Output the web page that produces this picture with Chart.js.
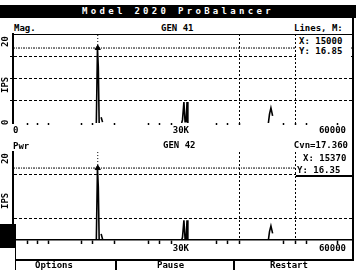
<!DOCTYPE html>
<html>
<head>
<meta charset="utf-8">
<script src="https://cdn.jsdelivr.net/npm/chart.js@4.4.1/dist/chart.umd.min.js"></script>
<style>
body{margin:0;background:#fff;}
#screen{position:relative;width:356px;height:270px;overflow:hidden;background:#fff;font:bold 9px "DejaVu Sans Mono",monospace;color:#000;}
.t{position:absolute;line-height:9px;white-space:nowrap;}
.rot{transform:rotate(-90deg);transform-origin:left top;}
.blk{position:absolute;background:#000;}
canvas{position:absolute;left:0;}
</style>
</head>
<body>
<div id="screen">
  <div class="blk" style="left:0;top:5px;width:356px;height:13px"></div>
  <div class="t" style="left:0;top:7px;width:356px;text-align:center;color:#fff;letter-spacing:3.3px">Model 2020 ProBalancer</div>

  <div class="t" style="left:14px;top:24px">Mag.</div>
  <div class="t" style="left:161px;top:24px">GEN 41</div>
  <div class="t" style="left:294px;top:24px">Lines, M:</div>

  <canvas id="magChart" width="356" height="100" style="top:28px"></canvas>
  <canvas id="pwrChart" width="356" height="100" style="top:146px"></canvas>

  <div class="t rot" style="left:1px;top:47px">20</div>
  <div class="t rot" style="left:1px;top:93px">IPS</div>
  <div class="t rot" style="left:1px;top:125px">0</div>

  <div class="t" style="left:296px;top:35px;width:55px;height:23px;background:#fff"></div>
  <div class="t" id="magX" style="left:299px;top:37px"></div>
  <div class="t" id="magY" style="left:299px;top:47px"></div>

  <div class="t" style="left:13px;top:142px">Pwr</div>
  <div class="t" style="left:163px;top:141px">GEN 42</div>
  <div class="t" style="right:8px;top:141px">Cvn=17.360</div>

  <div class="t rot" style="left:1px;top:164px">20</div>
  <div class="t rot" style="left:1px;top:209px">IPS</div>

  <div class="t" style="left:296px;top:152px;width:56px;height:23px;background:#fff;border-bottom:2px solid #000"></div>
  <div class="t" id="pwrX" style="left:303px;top:154px"></div>
  <div class="t" id="pwrY" style="left:297px;top:166px"></div>

  <div class="blk" style="left:0;top:224px;width:16px;height:24px"></div>
  <div class="blk" style="left:15px;top:248px;width:1px;height:22px"></div>
  <div class="blk" style="left:352px;top:18px;width:2px;height:243px"></div>

  <div class="blk" style="left:15px;top:259px;width:339px;height:2px"></div>
  <div class="blk" style="left:115px;top:260px;width:2px;height:10px"></div>
  <div class="blk" style="left:233px;top:260px;width:2px;height:10px"></div>
  <div class="t" style="left:35px;top:261px">Options</div>
  <div class="t" style="left:157px;top:261px">Pause</div>
  <div class="t" style="left:270px;top:261px">Restart</div>
</div>

<script>
// x axis (CPM)
const xLabelValues = [0, 30000, 60000];
const xLabels = ['0', '30K', '60000'];
const pwrXLabelValues = [30000, 60000];
const pwrXLabels = ['30K', '60000'];
const xMarkTicks = [2500, 4250, 6200, 12200, 14000, 18000, 23900, 26000, 28100, 36100, 38000, 47800, 52000, 57500];
const bandLines = [40000, 50000];

// y axis (IPS)
const yTicks = [0, 5, 10, 15, 20];
const magGrid = [5, 10, 15, 20];
const pwrGrid = [5, 15];

// spectra, null = gap in the trace
const specFreq = [14750, 14950, 15100, 15250, 15400, 15600, 15850, 15900, 29850, 30000, 30250, 30450, 30650, 30800, 30950, 31000, 45200, 45400, 45650, 45950, 46000];
const magAmp   = [0, 16.85, 12.5, 0, null, 1.3, 0.2, null, 0, 0.7, 4.7, 0.3, 0.3, 4.7, 0, null, 0, 2.0, 3.4, 1.6, null];
const pwrAmp   = [0, 16.35, 12.0, 0, null, 1.4, 0.2, null, 0, 0.6, 4.5, 0.3, 0.3, 4.5, 0, null, 0, 1.9, 3.2, 1.5, null];

// cursors [x, y] and their readouts
const magCursor = [15000, 16.85];
const pwrCursor = [15000, 16.35];
const magReadout = ['X: 15000', 'Y: 16.85'];
const pwrReadout = ['X: 15370', 'Y: 16.35'];

function spectrumChart(id, amp, cursor, gridValues, cfg) {
  const trace = specFreq.map((f, i) => ({x: f, y: amp[i]}));
  return new Chart(document.getElementById(id), {
    type: 'line',
    data: {
      datasets: [
        {data: trace, borderColor: '#000', borderWidth: 1.6, pointRadius: 0, spanGaps: false, tension: 0},
        {data: [{x: 0, y: cursor[1]}, {x: 60000, y: cursor[1]}], borderColor: '#000', borderWidth: 1, borderDash: [2, 1, 1, 1], pointRadius: 0},
        {data: [{x: cursor[0], y: cursor[1]}, {x: cursor[0], y: 20}], borderColor: '#000', borderWidth: 1, borderDash: [1, 2], pointRadius: 0},
        {data: [{x: cursor[0], y: cursor[1]}], showLine: false, pointStyle: 'triangle', pointRadius: 3, backgroundColor: '#000', borderColor: '#000'}
      ]
    },
    options: {
      responsive: false,
      animation: false,
      events: [],
      layout: {autoPadding: false, padding: cfg.padding},
      plugins: {legend: {display: false}, tooltip: {enabled: false}},
      scales: {
        x: {
          type: 'linear', min: 0, max: 60000,
          afterBuildTicks: s => { s.ticks = xMarkTicks.concat(bandLines).sort((a, b) => a - b).map(v => ({value: v})); },
          ticks: {display: false},
          grid: {
            color: c => (c.tick && bandLines.includes(c.tick.value)) ? '#000' : 'rgba(0,0,0,0)',
            lineWidth: 1, tickLength: cfg.xTickLen, tickColor: '#000', tickWidth: 1.5
          },
          border: {display: cfg.xBorder, color: '#000', width: 1.5, dash: [2, 2]}
        },
        y: {
          min: 0, max: 20,
          afterBuildTicks: s => { s.ticks = yTicks.map(v => ({value: v})); },
          ticks: {display: false},
          grid: {
            color: c => (c.tick && gridValues.includes(c.tick.value)) ? '#000' : 'rgba(0,0,0,0)',
            lineWidth: 1,
            drawTicks: cfg.yTicks, tickLength: 3,
            tickColor: c => (c.tick && gridValues.includes(c.tick.value) && c.tick.value < 20) ? '#000' : 'rgba(0,0,0,0)'
          },
          border: {display: true, color: '#000', width: 2, dash: c => (c.tick && c.tick.value === 20) ? [] : [3, 2]}
        }
      }
    }
  });
}

// axis labels placed with the chart's own x scale
function placeXLabels(chart, top, values, labels) {
  const sx = chart.scales.x;
  const screen = document.getElementById('screen');
  values.forEach((v, i) => {
    const d = document.createElement('div');
    d.className = 't';
    d.textContent = labels[i];
    d.style.top = top + 'px';
    const px = sx.getPixelForValue(v);
    if (v === 0) d.style.left = px + 'px';
    else if (v === 60000) d.style.right = (356 - px + 6) + 'px';
    else { d.style.left = px + 'px'; d.style.transform = 'translateX(-60%)'; }
    screen.appendChild(d);
  });
}

const magChart = spectrumChart('magChart', magAmp, magCursor, magGrid,
  {padding: {left: 10, right: 4, top: 6, bottom: 3}, xTickLen: 2, xBorder: false, yTicks: true});
const pwrChart = spectrumChart('pwrChart', pwrAmp, pwrCursor, pwrGrid,
  {padding: {left: 13, right: 4, top: 6, bottom: 2}, xTickLen: 4, xBorder: true, yTicks: false});

placeXLabels(magChart, 126, xLabelValues, xLabels);
placeXLabels(pwrChart, 244, pwrXLabelValues, pwrXLabels);

document.getElementById('magX').textContent = magReadout[0];
document.getElementById('magY').textContent = magReadout[1];
document.getElementById('pwrX').textContent = pwrReadout[0];
document.getElementById('pwrY').textContent = pwrReadout[1];
</script>
</body>
</html>
